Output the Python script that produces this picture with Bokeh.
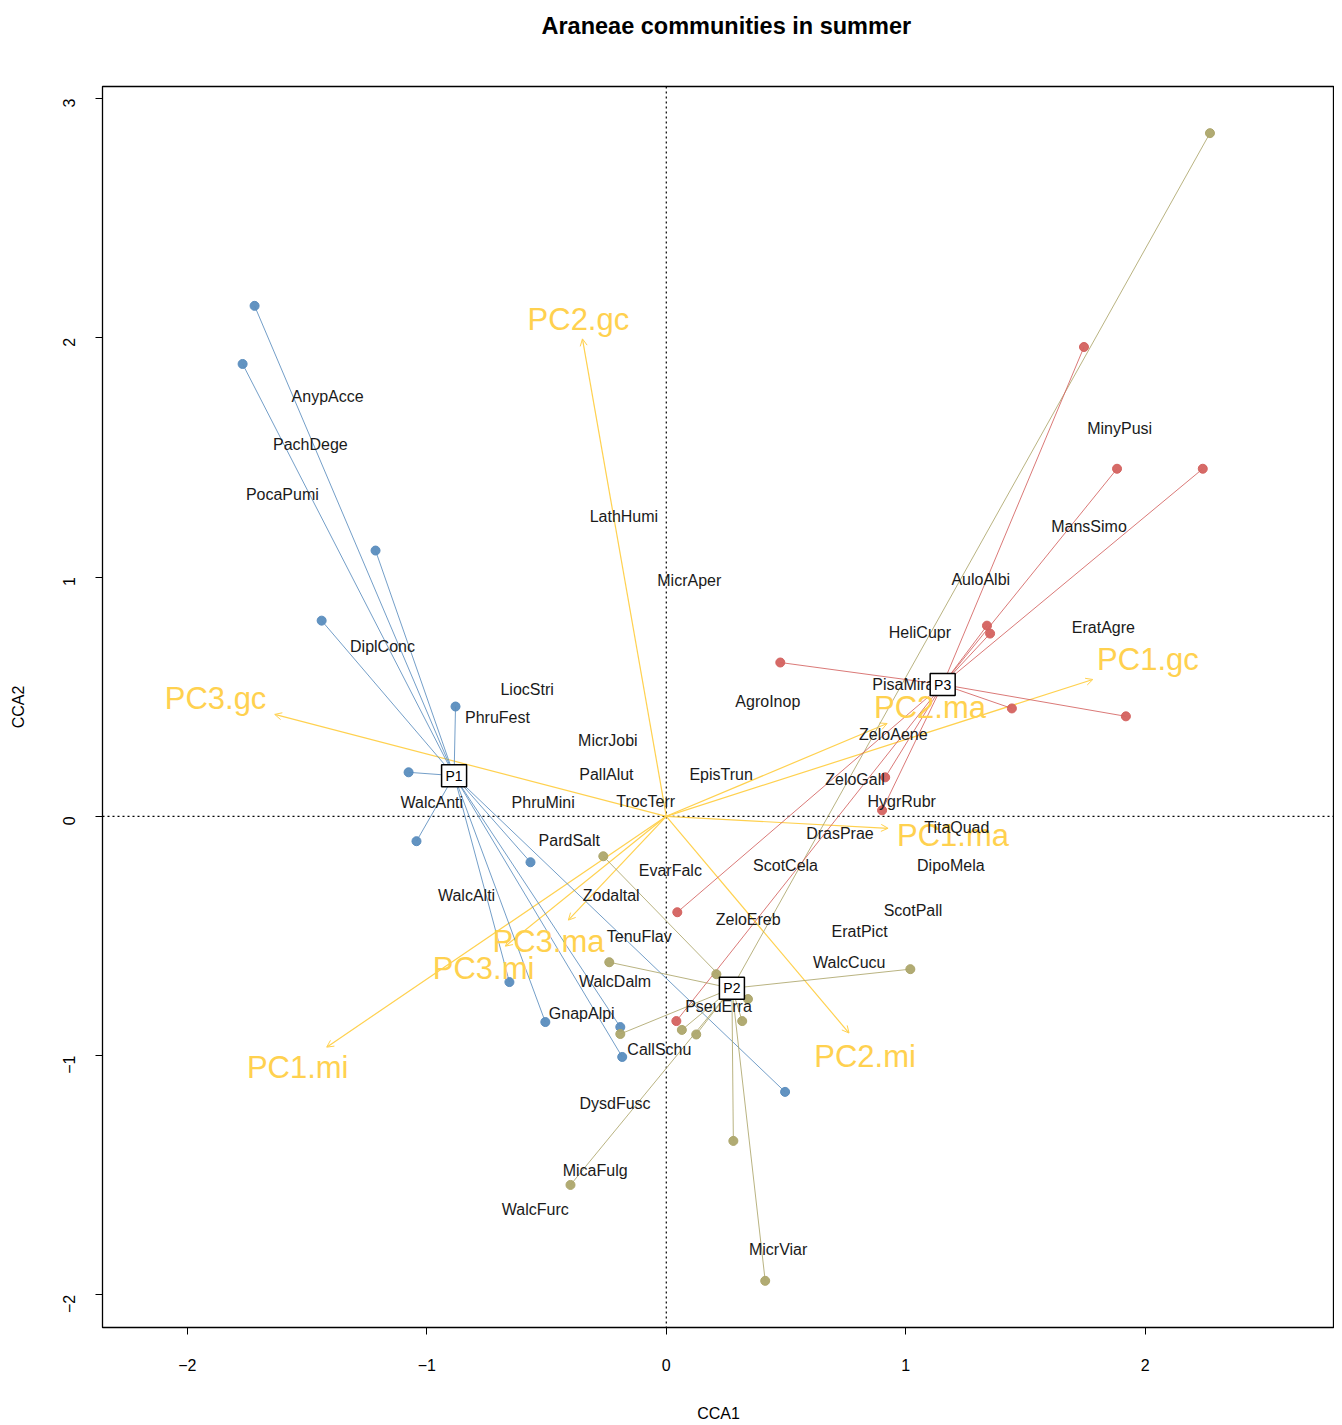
import math
from bokeh.plotting import figure
from bokeh.models import Range1d, FixedTicker, Span, Arrow, OpenHead, ColumnDataSource, Title
from bokeh.core.properties import value
from bokeh.embed import file_html
from bokeh.resources import INLINE

TITLE = "Araneae communities in summer"
X_LABEL = "CCA1"
Y_LABEL = "CCA2"
x_ticks = [-2, -1, 0, 1, 2]
y_ticks = [-2, -1, 0, 1, 2, 3]

# site scores, grouped by cluster
p1_x = [-1.719, -1.769, -1.214, -1.439, -0.880, -1.076, -1.043, -0.567, -0.655, -0.505, -0.192, -0.184, 0.496]
p1_y = [2.134, 1.891, 1.111, 0.818, 0.459, 0.184, -0.104, -0.192, -0.693, -0.860, -0.881, -1.006, -1.152]
p2_x = [2.270, -0.263, -0.238, 0.209, 1.019, -0.192, 0.065, 0.125, 0.317, 0.341, 0.280, 0.413, -0.400]
p2_y = [2.856, -0.167, -0.610, -0.660, -0.639, -0.910, -0.893, -0.912, -0.856, -0.764, -1.357, -1.942, -1.541]
p3_x = [1.744, 1.882, 2.240, 1.339, 1.352, 0.476, 1.443, 1.919, 0.914, 0.901, 0.046, 0.042]
p3_y = [1.962, 1.453, 1.453, 0.797, 0.764, 0.643, 0.451, 0.418, 0.163, 0.025, -0.401, -0.856]

# cluster centroids
cent_names = ["P1", "P2", "P3"]
cent_x = [-0.886, 0.274, 1.154]
cent_y = [0.170, -0.719, 0.551]

# species scores
sp_names = ["AnypAcce", "PachDege", "PocaPumi", "LathHumi", "MicrAper", "DiplConc", "LiocStri",
            "PhruFest", "MicrJobi", "PallAlut", "WalcAnti", "PhruMini", "TrocTerr", "EpisTrun",
            "AgroInop", "AuloAlbi", "HeliCupr", "EratAgre", "MinyPusi", "MansSimo", "PisaMira",
            "ZeloAene", "ZeloGall", "HygrRubr", "DrasPrae", "TitaQuad", "ScotCela", "DipoMela",
            "EvarFalc", "ScotPall", "ZeloEreb", "EratPict", "WalcCucu", "PardSalt", "WalcAlti",
            "Zodaltal", "TenuFlav", "WalcDalm", "GnapAlpi", "PseuErra", "CallSchu", "DysdFusc",
            "MicaFulg", "WalcFurc", "MicrViar"]
sp_x = [-1.414, -1.486, -1.603, -0.177, 0.096, -1.185, -0.581,
        -0.705, -0.244, -0.250, -0.979, -0.514, -0.086, 0.229,
        0.424, 1.313, 1.059, 1.825, 1.893, 1.765, 0.990,
        0.948, 0.788, 0.983, 0.725, 1.213, 0.498, 1.188,
        0.017, 1.030, 0.342, 0.807, 0.764, -0.405, -0.834,
        -0.230, -0.113, -0.214, -0.353, 0.218, -0.029, -0.214,
        -0.297, -0.547, 0.467]
sp_y = [1.754, 1.554, 1.344, 1.253, 0.985, 0.711, 0.530,
        0.415, 0.317, 0.174, 0.057, 0.057, 0.064, 0.175,
        0.480, 0.990, 0.767, 0.790, 1.621, 1.211, 0.551,
        0.342, 0.156, 0.060, -0.072, -0.045, -0.205, -0.205,
        -0.228, -0.392, -0.430, -0.483, -0.610, -0.100, -0.333,
        -0.333, -0.501, -0.690, -0.824, -0.793, -0.973, -1.202,
        -1.481, -1.642, -1.812]

# environmental biplot arrows
env_names = ["PC1.gc", "PC2.gc", "PC3.gc", "PC1.ma", "PC2.ma", "PC3.ma", "PC1.mi", "PC2.mi", "PC3.mi"]
env_x = [1.781, -0.350, -1.635, 0.926, 0.922, -0.409, -1.418, 0.763, -0.672]
env_y = [0.572, 1.996, 0.426, -0.050, 0.388, -0.434, -0.965, -0.906, -0.543]
env_lab_x = [2.011, -0.367, -1.882, 1.197, 1.101, -0.492, -1.539, 0.830, -0.763]
env_lab_y = [0.656, 2.079, 0.493, -0.079, 0.455, -0.522, -1.052, -1.006, -0.635]

BLUE = "#5A8DBE"
TAN = "#ADA66B"
RED = "#D4625F"
GOLD = "#FFD14F"
FONT = "Liberation Sans"

p = figure(width=1334, height=1424, output_backend="svg", toolbar_location=None,
           x_range=Range1d(-2.354, 2.790), y_range=Range1d(-2.137, 3.051),
           min_border_left=102, min_border_right=0, min_border_top=86, min_border_bottom=96,
           background_fill_color="white", border_fill_color="white")
p.xgrid.visible = False
p.ygrid.visible = False
p.outline_line_color = "black"
p.outline_line_width = 1.3

# main title (outermost) plus a thin spacer title next to the frame
p.title.text = TITLE
p.title.align = "left"
p.title.offset = 439
p.title.vertical_align = "top"
p.title.standoff = 22
p.title.text_font = FONT
p.title.text_font_size = "23.5px"
p.title.text_font_style = "bold"
p.title.text_color = "black"
p.add_layout(Title(text=" ", text_font_size="1px", standoff=32), "above")

for ax, ticks, lab in ((p.xaxis[0], x_ticks, X_LABEL), (p.yaxis[0], y_ticks, Y_LABEL)):
    ax.ticker = FixedTicker(ticks=ticks)
    ax.axis_label = lab
    ax.major_tick_out = 7
    ax.major_tick_in = 0
    ax.minor_tick_out = 0
    ax.minor_tick_in = 0
    ax.axis_line_color = "black"
    ax.major_tick_line_color = "black"
    ax.major_label_text_font = FONT
    ax.major_label_text_font_size = "16px"
    ax.major_label_text_color = "black"
    ax.axis_label_text_font = FONT
    ax.axis_label_text_font_size = "16px"
    ax.axis_label_text_font_style = "normal"
    ax.axis_label_text_color = "black"
p.xaxis.major_label_standoff = 24
p.xaxis.axis_label_standoff = 31
p.yaxis.major_label_standoff = 26
p.yaxis.axis_label_standoff = 28
p.yaxis.major_label_orientation = math.pi / 2

for dim in ("width", "height"):
    p.add_layout(Span(location=0, dimension=dim, line_color="black", line_width=1.2,
                      line_dash="2 3", level="underlay"))

# environmental arrows
env_src = ColumnDataSource(dict(x0=[0.0] * len(env_x), y0=[0.0] * len(env_y), x1=env_x, y1=env_y))
p.add_layout(Arrow(end=OpenHead(size=7, line_color=GOLD, line_width=1),
                   x_start="x0", y_start="y0", x_end="x1", y_end="y1",
                   source=env_src, line_color=GOLD, line_width=1.2, level="underlay"))

# spiders
for xs, ys, ci, col in ((p1_x, p1_y, 0, BLUE), (p2_x, p2_y, 1, TAN), (p3_x, p3_y, 2, RED)):
    p.segment(x0=[cent_x[ci]] * len(xs), y0=[cent_y[ci]] * len(ys), x1=xs, y1=ys,
              line_color=col, line_width=1, line_alpha=0.85)
for xs, ys, col in ((p1_x, p1_y, BLUE), (p2_x, p2_y, TAN), (p3_x, p3_y, RED)):
    p.scatter(xs, ys, size=9, fill_color=col, line_color=col, fill_alpha=0.95)

# env labels
p.text(x=env_lab_x, y=env_lab_y, text=env_names, text_font=value(FONT), text_font_size="31px",
       text_color=GOLD, text_align="center", text_baseline="middle")

# species labels
p.text(x=sp_x, y=sp_y, text=sp_names, text_font=value(FONT), text_font_size="16px",
       text_color="#1a1a1a", text_align="center", text_baseline="middle")

# centroid boxes
p.rect(x=cent_x, y=cent_y, width=25, height=22, width_units="screen", height_units="screen",
       fill_color="white", line_color="black", line_width=1.5)
p.text(x=cent_x, y=cent_y, text=cent_names, text_font=value(FONT), text_font_size="14px",
       text_color="black", text_align="center", text_baseline="middle")

open("out.html", "w").write(file_html(p, INLINE))
